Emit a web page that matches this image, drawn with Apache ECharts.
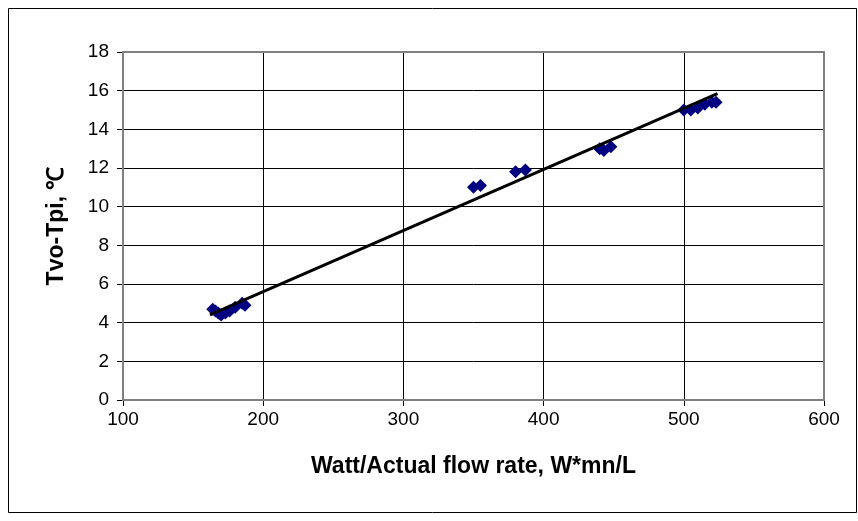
<!DOCTYPE html>
<html>
<head>
<meta charset="utf-8">
<script src="https://cdn.jsdelivr.net/npm/echarts@6/dist/echarts.min.js"></script>
<style>html,body{margin:0;padding:0;background:#fff}#c{width:858px;height:521px}</style>
</head>
<body>
<div id="c"></div>
<script>
var xValues = [164, 166, 168, 170, 173, 176, 180, 185, 187, 350, 355, 380, 387, 440, 443, 448, 500, 505, 510, 515, 520, 523];
var yValues = [4.7, 4.6, 4.5, 4.4, 4.5, 4.6, 4.8, 5.0, 4.9, 11.0, 11.1, 11.8, 11.9, 13.0, 12.9, 13.1, 15.0, 15.0, 15.1, 15.3, 15.4, 15.4];
var trendX = [162, 524];
var trendY = [4.4, 15.85];
var xTicks = [100, 200, 300, 400, 500, 600];
var yTicks = [0, 2, 4, 6, 8, 10, 12, 14, 16, 18];
var xTitle = 'Watt/Actual flow rate, W*mn/L';
var yTitle = 'Tvo-Tpi, \u2103';

var pts = xValues.map(function (x, i) { return [x, yValues[i]]; });
var trend = trendX.map(function (x, i) { return [x, trendY[i]]; });

var FONT = 'Liberation Sans, Arial, sans-serif';
var chart = echarts.init(document.getElementById('c'), null, { renderer: 'canvas' });
chart.setOption({
  animation: false,
  backgroundColor: '#ffffff',
  textStyle: { fontFamily: FONT },
  graphic: [{
    type: 'rect', silent: true,
    shape: { x: 8.5, y: 8.5, width: 848, height: 504 },
    style: { fill: 'none', stroke: '#000', lineWidth: 1 }
  }, {
    type: 'rect', silent: true,
    shape: { x: 123, y: 52, width: 701, height: 348 },
    style: { fill: 'none', stroke: '#808080', lineWidth: 2 }, z: 1
  }],
  grid: { left: 123, right: 34, top: 52, bottom: 121, show: false },
  xAxis: {
    type: 'value', min: xTicks[0], max: xTicks[xTicks.length - 1], interval: 100,
    name: xTitle, nameLocation: 'middle', nameGap: 55,
    nameTextStyle: { fontSize: 23, fontWeight: 'bold', color: '#000', fontFamily: FONT },
    axisLine: { show: true, onZero: false, lineStyle: { color: '#000', width: 1 } },
    axisTick: { show: true, inside: false, length: 6, lineStyle: { color: '#000' } },
    axisLabel: { fontSize: 19, color: '#000', margin: 10, fontFamily: FONT },
    splitLine: { show: true, lineStyle: { color: '#000', width: 1 } }
  },
  yAxis: {
    type: 'value', min: yTicks[0], max: yTicks[yTicks.length - 1], interval: 2,
    name: yTitle, nameLocation: 'middle', nameGap: 55,
    nameTextStyle: { fontSize: 23, fontWeight: 'bold', color: '#000', fontFamily: FONT },
    axisLine: { show: true, onZero: false, lineStyle: { color: '#000', width: 1 } },
    axisTick: { show: true, inside: false, length: 6, lineStyle: { color: '#000' } },
    axisLabel: { fontSize: 19, color: '#000', margin: 14, fontFamily: FONT },
    splitLine: { show: true, lineStyle: { color: '#000', width: 1 } }
  },
  series: [{
    type: 'scatter', data: pts, symbol: 'diamond', symbolSize: 13,
    itemStyle: { color: '#000080', opacity: 1 }, z: 3
  }, {
    type: 'line', data: trend, symbol: 'none',
    lineStyle: { color: '#000', width: 3 }, z: 4
  }]
});
</script>
</body>
</html>
